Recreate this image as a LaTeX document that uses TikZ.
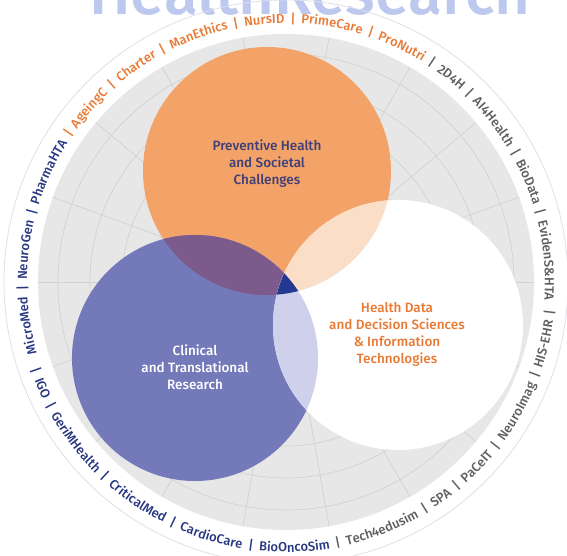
\documentclass[tikz,border=0pt]{standalone}
\usepackage{fontspec}
\setmainfont{Fira Sans}[UprightFont={* Medium}]
\usetikzlibrary{decorations.text}
\definecolor{corange}{RGB}{243,163,104}
\definecolor{cblue}{RGB}{116,121,185}
\definecolor{cob}{RGB}{124,90,140}
\definecolor{cwo}{RGB}{251,222,200}
\definecolor{cwb}{RGB}{207,208,235}
\definecolor{ctri}{RGB}{36,56,145}
\definecolor{cdisk}{RGB}{231,231,231}
\definecolor{cgrid}{RGB}{210,210,210}
\definecolor{cring}{RGB}{222,224,232}
\definecolor{ctitle}{RGB}{188,200,238}
\definecolor{cnavy}{RGB}{40,55,130}
\definecolor{cotext}{RGB}{232,122,52}
\definecolor{cgtext}{RGB}{95,95,95}
\definecolor{cslate}{RGB}{62,62,120}
\newcommand{\ringfont}{\fontsize{13}{15}\selectfont}
\tikzset{
  gridline/.style={cgrid, line width=0.7pt},
  venntext/.style={align=center, font=\fontsize{13.5}{17}\selectfont},
  ringtext/.style={decorate, decoration={text along path, text format delimiters={[}{]},
    text align={fit to path stretching spaces}, text={#1}}}
}
\begin{document}
\begin{tikzpicture}[x=1pt,y=1pt]
\useasboundingbox (-286,-274) rectangle (281,282);
\fill[white] (-286,-274) rectangle (281,282);
\coordinate (C) at (0,0);
\coordinate (O) at (-19,111);
\coordinate (B) at (-91,-76);
\coordinate (W) at (112,-43);
% cropped title
\node[anchor=base, font=\fontsize{62}{62}\selectfont, text=ctitle, inner sep=0pt] (title) at (24,267) {HealthResearch};
% ring and disk
\draw[cring, line width=0.8pt] (C) circle (282);
\fill[cdisk] (C) circle (248);
\begin{scope}
  \clip (C) circle (248);
  \foreach \r in {36,68,...,228} \draw[gridline] (C) circle (\r);
  \foreach \a in {0,20,...,340} \draw[gridline] (C) -- (\a:250);
\end{scope}
% ring texts
\path[ringtext={[\ringfont\color{cnavy}]MicroMed | NeuroGen | PharmaHTA [\ringfont\color{cotext}]| AgeingC | Charter | ManEthics | NursID | PrimeCare | ProNutri [\ringfont\color{cgtext}]| 2D4H | AI4Health | BioData | EvidenS{\&}HTA}]
  (196:259) arc[start angle=196, end angle=-4, radius=259];
\path[ringtext={[\ringfont\color{cnavy}]| IGO | GeriMHealth | CriticalMed | CardioCare | BioOncoSim [\ringfont\color{cgtext}]| Tech4edusim | SPA | PaCeIT | NeuroImag | HIS-EHR |}]
  (199:270) arc[start angle=199, end angle=354, radius=270];
% Venn
\fill[corange] (O) circle (124);
\fill[cblue] (B) circle (123);
\begin{scope}
  \clip (O) circle (124);
  \fill[cob] (B) circle (123);
\end{scope}
\fill[white] (W) circle (125);
\begin{scope}
  \clip (W) circle (125);
  \fill[cwo] (O) circle (124);
  \fill[cwb] (B) circle (123);
  \clip (O) circle (124);
  \fill[ctri] (B) circle (123);
\end{scope}
% labels
\node[venntext, text=cslate] (prev) at (-19,118) {Preventive Health\\and Societal\\Challenges};
\node[venntext, text=white] (clin) at (-91,-85) {Clinical\\and Translational\\Research};
\node[venntext, text=cotext] (data) at (111,-52) {Health Data\\and Decision Sciences\\\& Information\\Technologies};
\end{tikzpicture}
\end{document}
